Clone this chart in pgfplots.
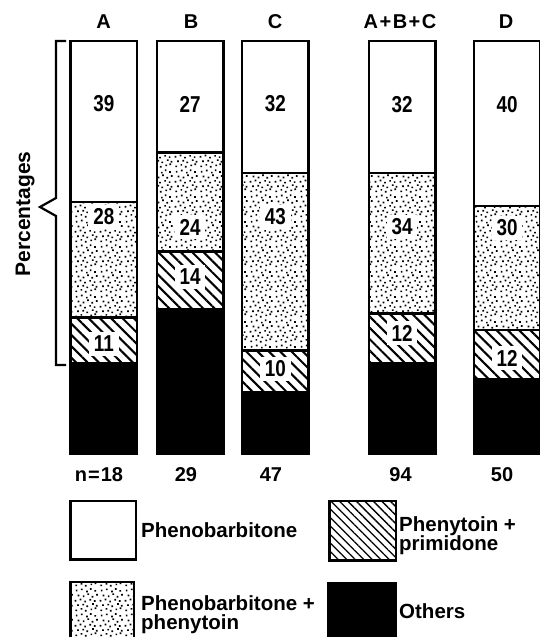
\documentclass[border=0pt]{standalone}
\usepackage{fontspec}
\setmainfont{Liberation Sans}
\newfontfamily\numfont{Liberation Sans}[FakeStretch=0.82]
\usepackage{pgfplots}
\usepackage{pgfplotstable}
\pgfplotsset{compat=1.18}
\usetikzlibrary{patterns,patterns.meta}

\def\sd#1#2{\pgfpathrectangle{\pgfqpoint{#1pt}{#2pt}}{\pgfqpoint{1.7pt}{1.7pt}}}
\pgfdeclarepatternformonly{stipple}{\pgfqpoint{0pt}{0pt}}{\pgfqpoint{24.5pt}{24.5pt}}{\pgfqpoint{24.5pt}{24.5pt}}{%
\sd{1.4}{0.8}\sd{6.7}{2.3}\sd{11.1}{0.5}\sd{16.7}{1.8}\sd{20.8}{3.0}%
\sd{3.2}{6.1}\sd{8.5}{6.6}\sd{12.6}{4.9}\sd{18.3}{7.2}\sd{22.1}{5.5}%
\sd{0.7}{10.6}\sd{5.8}{11.8}\sd{10.4}{9.7}\sd{15.6}{11.5}\sd{20.2}{10.2}%
\sd{3.7}{15.9}\sd{8.9}{15.0}\sd{13.5}{17.2}\sd{17.8}{14.6}\sd{22.3}{16.5}%
\sd{1.8}{20.8}\sd{7.0}{22.0}\sd{12.3}{19.9}\sd{16.1}{22.3}\sd{20.6}{20.5}%
\pgfusepath{fill}}

\tikzset{lab/.style={fill=white, inner xsep=5pt, inner ysep=4pt, font=\numfont\bfseries\fontsize{23}{23}\selectfont}}

% x = bar centre (px), values in percent
% columns: others, phenytoin+primidone, phenobarbitone+phenytoin, phenobarbitone
\pgfplotstableread{
x      oth  hat  dot  whi
103.8  22   11   28   39
190.0  35   14   24   27
275.3  15   10   43   32
402.0  22   12   34   32
507.0  18   12   30   40
}\datatable

\begin{document}
\begin{tikzpicture}[x=1pt,y=1pt]
\useasboundingbox (0,0) rectangle (540,637);
\begin{axis}[
  at={(0pt,183.25pt)}, anchor=south west,
  width=540pt, height=412.5pt, scale only axis,
  xmin=0, xmax=540, ymin=0, ymax=100,
  hide axis, clip=false,
  ybar stacked, bar width=66.5,
]
\addplot[fill=black, draw=black, line width=2.5pt] table[x=x,y=oth] {\datatable};
\addplot[draw=black, line width=2.5pt, pattern={Lines[angle=-45,distance=8pt,line width=2.1pt]}, pattern color=black] table[x=x,y=hat] {\datatable};
\addplot[draw=black, line width=2.5pt, pattern=stipple, pattern color=black] table[x=x,y=dot] {\datatable};
\addplot[fill=white, draw=black, line width=2.5pt] table[x=x,y=whi] {\datatable};
\end{axis}

% segment labels
\node[lab] at (103.8,533) {39};
\node[lab] at (103.8,420) {28};
\node[lab] at (103.8,293) {11};
\node[lab] at (190.0,533) {27};
\node[lab] at (190.0,410) {24};
\node[lab] at (190.0,360) {14};
\node[lab] at (275.3,533) {32};
\node[lab] at (275.3,420) {43};
\node[lab] at (275.3,268) {10};
\node[lab] at (402.0,532) {32};
\node[lab] at (402.0,410) {34};
\node[lab] at (402.0,304) {12};
\node[lab] at (507.0,532) {40};
\node[lab] at (507.0,409) {30};
\node[lab] at (507.0,279) {12};

% column headings
\begin{scope}[every node/.style={font=\bfseries\fontsize{20}{24}\selectfont, inner sep=0pt}]
\node at (103.5,615) {A};
\node at (191,615) {B};
\node at (275,615) {C};
\node at (400,615) {A\kern1.5pt+\kern1.5pt B\kern1.5pt+\kern1.5pt C};
\node at (506,615) {D};
\node at (99,162) {n\kern1pt=\kern1pt18};
\node at (186,162) {29};
\node at (271,162) {47};
\node at (400.5,162) {94};
\node at (502,162) {50};
\end{scope}

% brace
\draw[line width=2.2pt] (66,596)--(56,596)--(56,439)--(40,430)--(56,421)--(56,272)--(66,272);
\node[rotate=90, anchor=base, inner sep=0pt, font=\bfseries\fontsize{21}{24}\selectfont] at (30,423) {Percentages};

% legend
\draw[line width=2.5pt, fill=white] (70.25,135.75) rectangle (135.75,77.25);
\draw[line width=2.5pt, pattern={Lines[angle=-45,distance=6pt,line width=1.3pt]}] (329.25,135.75) rectangle (395.75,76.25);
\draw[line width=2.5pt, pattern=stipple] (70.25,54.75) rectangle (133.75,-5);
\fill[black] (327,55) rectangle (397,-5);
\begin{scope}[every node/.style={font=\bfseries\fontsize{20.5}{24}\selectfont, inner sep=0pt, anchor=base west}]
\node at (141,99) {Phenobarbitone};
\node at (141,26.3) {Phenobarbitone +};
\node at (141,8) {phenytoin};
\node at (399,105.3) {Phenytoin +};
\node at (399,86) {primidone};
\node at (399,18.7) {Others};
\end{scope}
\end{tikzpicture}
\end{document}
